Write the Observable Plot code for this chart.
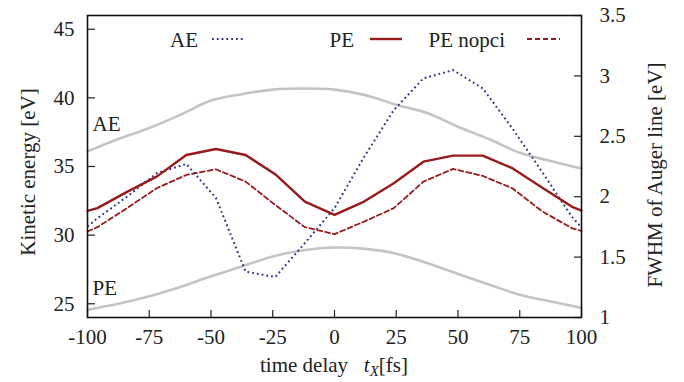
<!DOCTYPE html>
<html>
<head>
<meta charset="utf-8">
<script src="https://cdn.jsdelivr.net/npm/d3@7"></script>
<script src="https://cdn.jsdelivr.net/npm/@observablehq/plot@0.6"></script>
<style>
  body { margin: 0; background: #fff; }
  #wrap { position: relative; width: 684px; height: 382px; font-family: "Liberation Serif", "Times New Roman", serif; color: #222; }
  .ov { position: absolute; font-size: 21px; line-height: 1; white-space: nowrap; color: #222; font-family: "Liberation Serif", serif; }
</style>
</head>
<body>
<div id="wrap"></div>
<script>
// FWHM series (right axis, eV) at sampled time delays (fs)
const times = [-100, -96, -84, -72, -60, -48, -36, -24, -12, 0, 12, 24, 36, 48, 60, 72, 84, 96, 100];
const fwhmPE = [1.883, 1.905, 2.04, 2.166, 2.345, 2.395, 2.345, 2.186, 1.96, 1.85, 1.96, 2.112, 2.29, 2.34, 2.34, 2.236, 2.077, 1.918, 1.885];
const fwhmPEnopci = [1.712, 1.748, 1.905, 2.07, 2.18, 2.227, 2.125, 1.932, 1.748, 1.69, 1.794, 1.905, 2.125, 2.23, 2.172, 2.07, 1.88, 1.74, 1.717];
const fwhmAE = [1.753, 1.822, 2.0, 2.194, 2.271, 1.99, 1.38, 1.335, 1.616, 1.905, 2.33, 2.717, 2.98, 3.048, 2.897, 2.566, 2.207, 1.836, 1.745];

// Kinetic energy curves (left axis, eV)
const keTimes = [-100, -87.5, -75, -62.5, -50, -37.5, -25, -12.5, 0, 12.5, 25, 37.5, 50, 62.5, 75, 87.5, 100];
const keAE = [36.1, 37.0, 37.8, 38.76, 39.8, 40.27, 40.6, 40.68, 40.6, 40.2, 39.5, 38.9, 37.9, 37.0, 36.0, 35.4, 34.85];
const kePE = [24.57, 25.0, 25.54, 26.22, 27.0, 27.72, 28.45, 28.9, 29.1, 29.0, 28.65, 27.97, 27.17, 26.4, 25.66, 25.17, 24.7];

// Axes
const xTicks = [-100, -75, -50, -25, 0, 25, 50, 75, 100];
const leftTicks = [25, 30, 35, 40, 45];
const rightTicks = [1, 1.5, 2, 2.5, 3, 3.5];
const leftDomain = [24, 46];
const rightDomain = [1, 3.5];
const leftLabel = "Kinetic energy [eV]";
const rightLabel = "FWHM of Auger line [eV]";

// Curve labels
const curveLabels = [{text: "AE", t: -100, e: 38.1}, {text: "PE", t: -100, e: 26.1}];

// Legend entries
const legendNames = ["AE", "PE", "PE nopci"];

// map right-axis values into left-axis units
const toLeft = v => leftDomain[0] + (v - rightDomain[0]) * (leftDomain[1] - leftDomain[0]) / (rightDomain[1] - rightDomain[0]);
const fromLeft = e => rightDomain[0] + (e - leftDomain[0]) * (rightDomain[1] - rightDomain[0]) / (leftDomain[1] - leftDomain[0]);

const red = "#981a1a";
const blue = "#30308c";
const gray = "#c4c4c4";
const blank = () => "";

const series = (vals) => times.map((t, i) => ({t, y: toLeft(vals[i])}));
const keSeries = (vals) => keTimes.map((t, i) => ({t, y: vals[i]}));

const chart = Plot.plot({
  width: 684,
  height: 382,
  marginLeft: 87,
  marginRight: 103,
  marginTop: 15,
  marginBottom: 65,
  style: {fontSize: "21px", fontFamily: "Liberation Serif, serif", color: "#222", background: "white"},
  x: {domain: [-100, 100]},
  y: {domain: leftDomain},
  marks: [
    Plot.line(keSeries(keAE), {x: "t", y: "y", stroke: gray, strokeWidth: 2.6, curve: "catmull-rom"}),
    Plot.line(keSeries(kePE), {x: "t", y: "y", stroke: gray, strokeWidth: 2.6, curve: "catmull-rom"}),
    Plot.line(series(fwhmPEnopci), {x: "t", y: "y", stroke: red, strokeWidth: 1.8, strokeDasharray: "5,3"}),
    Plot.line(series(fwhmAE), {x: "t", y: "y", stroke: blue, strokeWidth: 2, strokeDasharray: "1.8,3", strokeLinecap: "butt"}),
    Plot.line(series(fwhmPE), {x: "t", y: "y", stroke: red, strokeWidth: 2.4}),
    Plot.text(curveLabels, {x: "t", y: "e", text: "text", textAnchor: "start", dx: 5, fontSize: 21, fill: "#222"}),
    // ticks (inward)
    Plot.axisX({ticks: xTicks, tickSize: -7, tickFormat: blank, label: null, strokeWidth: 1.2}),
    Plot.axisX({ticks: xTicks, tickSize: 0, tickPadding: 12, tickFormat: d => String(d), label: null}),
    Plot.axisY({ticks: leftTicks, tickSize: -8, tickFormat: blank, label: null, strokeWidth: 1.2}),
    Plot.axisY({ticks: leftTicks, tickSize: 0, tickPadding: 13, tickFormat: d => String(d), label: null}),
    Plot.axisY({anchor: "right", ticks: rightTicks.map(toLeft), tickSize: -8, tickFormat: blank, label: null, strokeWidth: 1.2}),
    Plot.axisY({anchor: "right", ticks: rightTicks.map(toLeft), tickSize: 0, tickPadding: 18,
      tickFormat: d => String(+fromLeft(d).toFixed(2)), label: null}),
    Plot.frame({stroke: "#111", strokeWidth: 1.6})
  ]
});

const wrap = document.getElementById("wrap");
wrap.appendChild(chart);

function overlay(html, left, top, transform) {
  const d = document.createElement("div");
  d.className = "ov";
  d.style.left = left + "px";
  d.style.top = top + "px";
  d.style.transform = transform;
  d.innerHTML = html;
  wrap.appendChild(d);
  return d;
}

// axis titles
overlay('time delay&nbsp;&nbsp;&nbsp;<i>t</i><sub style="font-size:15px;vertical-align:-4px;"><i>X</i></sub>[fs]', 334, 355, "translateX(-50%)");
overlay(leftLabel, 28, 172, "translate(-50%,-50%) rotate(-90deg)");
overlay(rightLabel, 655, 175, "translate(-50%,-50%) rotate(-90deg)");

// legend
const legendSpec = [
  {name: legendNames[0], right: 198, x1: 212, x2: 245, stroke: blue, dash: "1.8,3", w: 2},
  {name: legendNames[1], right: 354, x1: 370, x2: 402, stroke: red, dash: null, w: 2.4},
  {name: legendNames[2], right: 505, x1: 527, x2: 560, stroke: red, dash: "5,3", w: 1.8}
];
for (const L of legendSpec) {
  const tx = document.createElement("div");
  tx.className = "ov";
  tx.textContent = L.name;
  tx.style.right = (684 - L.right) + "px";
  tx.style.top = "30px";
  wrap.appendChild(tx);
  const s = document.createElementNS("http://www.w3.org/2000/svg", "svg");
  s.setAttribute("width", L.x2 - L.x1);
  s.setAttribute("height", 6);
  s.style.position = "absolute";
  s.style.left = L.x1 + "px";
  s.style.top = "36px";
  const ln = document.createElementNS("http://www.w3.org/2000/svg", "line");
  ln.setAttribute("x1", 0); ln.setAttribute("x2", L.x2 - L.x1);
  ln.setAttribute("y1", 3); ln.setAttribute("y2", 3);
  ln.setAttribute("stroke", L.stroke);
  ln.setAttribute("stroke-width", L.w);
  if (L.dash) ln.setAttribute("stroke-dasharray", L.dash);
  s.appendChild(ln);
  wrap.appendChild(s);
}
</script>
</body>
</html>
